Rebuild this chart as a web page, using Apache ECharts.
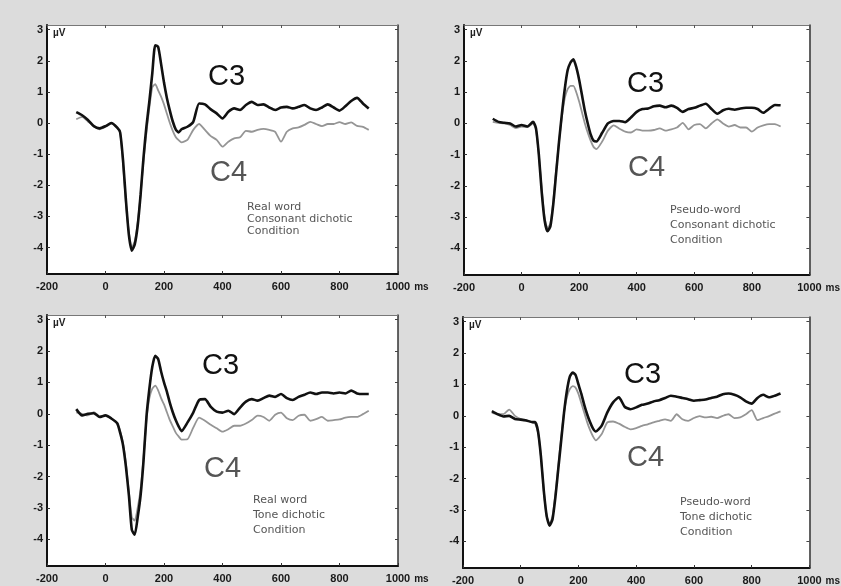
<!DOCTYPE html>
<html><head><meta charset="utf-8">
<script src="https://cdn.jsdelivr.net/npm/echarts@6/dist/echarts.min.js"></script>
<style>html,body{margin:0;padding:0;background:#dcdcdc}#c{width:841px;height:586px}</style>
</head><body><div id="c"></div><script>
// ---- data ----
const times = [-100,-80,-60,-40,-20,0,20,40,50,60,70,80,90,100,110,120,130,140,150,160,170,180,190,200,210,220,230,240,250,260,280,300,320,340,360,380,400,420,440,460,480,500,520,540,560,580,600,620,640,660,680,700,720,740,760,780,800,820,840,860,880,900];
const xTicks = [-200,0,200,400,600,800,1000];
const yTicks = [-4,-3,-2,-1,0,1,2,3];

const realConsC3 = [0.35,0.25,0.1,-0.1,-0.17,-0.1,0.0,-0.15,-0.3,-1.2,-2.5,-3.6,-4.1,-3.9,-3.3,-2.3,-1.1,-0.1,0.7,1.6,2.5,2.45,1.9,1.3,0.8,0.4,0.05,-0.2,-0.3,-0.2,
  -0.12,0.04,0.63,0.6,0.44,0.31,0.15,0.36,0.47,0.42,0.58,0.68,0.58,0.6,0.5,0.42,0.5,0.52,0.47,0.52,0.58,0.47,0.42,0.5,0.6,0.5,0.4,0.54,0.71,0.81,0.63,0.47];
const realConsC4 = [0.12,0.2,0.05,-0.1,-0.2,-0.12,-0.02,-0.15,-0.3,-1.3,-2.6,-3.5,-4.0,-3.8,-3.2,-2.3,-1.2,-0.3,0.5,1.15,1.25,1.05,0.85,0.6,0.3,0.0,-0.25,-0.45,-0.55,-0.62,
  -0.54,-0.22,-0.03,-0.22,-0.42,-0.54,-0.76,-0.6,-0.49,-0.46,-0.25,-0.28,-0.22,-0.19,-0.22,-0.28,-0.6,-0.28,-0.17,-0.14,-0.06,0.04,-0.03,-0.1,-0.03,-0.03,0.03,-0.03,0.02,-0.09,-0.12,-0.22];

const pseudoConsC3 = [0.15,0.05,0.02,0.0,-0.1,-0.05,-0.1,0.05,-0.15,-1.0,-2.2,-3.1,-3.45,-3.3,-2.6,-1.6,-0.6,0.3,1.1,1.7,1.95,2.05,1.8,1.4,0.9,0.4,0.0,-0.35,-0.55,-0.58,
  -0.3,0.0,0.08,0.08,0.04,0.19,0.37,0.46,0.48,0.55,0.57,0.52,0.57,0.5,0.37,0.46,0.5,0.57,0.63,0.46,0.31,0.42,0.47,0.44,0.48,0.5,0.5,0.46,0.34,0.47,0.59,0.58];
const pseudoConsC4 = [0.05,0.02,0.0,-0.05,-0.15,-0.1,-0.12,0.0,-0.2,-1.0,-2.1,-3.0,-3.35,-3.2,-2.5,-1.5,-0.6,0.2,0.8,1.1,1.2,1.2,1.0,0.7,0.35,0.0,-0.3,-0.55,-0.75,-0.82,
  -0.58,-0.23,-0.06,-0.17,-0.26,-0.29,-0.19,-0.23,-0.23,-0.21,-0.16,-0.23,-0.19,-0.13,0.02,-0.19,-0.05,-0.02,-0.16,0.0,0.13,0.0,-0.1,-0.05,-0.13,-0.13,-0.26,-0.13,-0.06,-0.02,-0.02,-0.1];

const realToneC3 = [0.15,-0.05,0.0,0.02,-0.1,-0.05,-0.15,-0.3,-0.6,-1.0,-1.7,-2.6,-3.7,-3.85,-3.3,-2.6,-1.5,-0.1,0.8,1.5,1.85,1.75,1.35,1.0,0.7,0.35,0.05,-0.2,-0.4,-0.55,
  -0.28,0.04,0.44,0.47,0.22,0.07,0.04,0.1,-0.01,0.2,0.39,0.47,0.42,0.5,0.58,0.54,0.63,0.5,0.44,0.54,0.61,0.68,0.63,0.68,0.68,0.65,0.68,0.65,0.74,0.65,0.63,0.63];
const realToneC4 = [0.05,0.0,-0.05,0.05,-0.08,-0.05,-0.15,-0.3,-0.55,-0.95,-1.6,-2.5,-3.3,-3.4,-3.0,-2.4,-1.4,-0.2,0.5,0.8,0.9,0.75,0.5,0.3,0.05,-0.2,-0.4,-0.6,-0.72,-0.82,
  -0.81,-0.44,-0.12,-0.22,-0.35,-0.46,-0.57,-0.49,-0.38,-0.38,-0.31,-0.2,-0.06,-0.1,-0.22,-0.03,0.04,-0.14,-0.2,-0.06,-0.03,-0.22,-0.17,-0.1,-0.22,-0.2,-0.18,-0.12,-0.1,-0.1,-0.01,0.1];

const pseudoToneC3 = [0.15,0.05,-0.02,0.0,-0.1,-0.12,-0.15,-0.2,-0.2,-0.5,-1.3,-2.4,-3.2,-3.5,-3.3,-2.6,-1.7,-0.8,0.1,0.8,1.25,1.38,1.3,1.0,0.7,0.35,0.05,-0.2,-0.4,-0.5,
  -0.32,0.11,0.43,0.59,0.29,0.21,0.27,0.35,0.39,0.46,0.5,0.57,0.64,0.61,0.57,0.53,0.48,0.5,0.52,0.57,0.61,0.69,0.71,0.67,0.59,0.46,0.39,0.57,0.67,0.59,0.64,0.71];
const pseudoToneC4 = [0.1,0.05,0.05,0.2,0.0,-0.1,-0.15,-0.2,-0.25,-0.55,-1.3,-2.4,-3.2,-3.45,-3.2,-2.5,-1.6,-0.7,0.1,0.6,0.85,0.95,0.9,0.7,0.4,0.1,-0.2,-0.45,-0.65,-0.78,
  -0.59,-0.21,-0.18,-0.25,-0.35,-0.43,-0.39,-0.32,-0.27,-0.21,-0.16,-0.11,-0.16,0.05,-0.11,-0.16,-0.07,-0.01,-0.05,-0.03,-0.07,0.0,0.05,-0.07,-0.05,0.05,0.18,-0.14,-0.07,-0.01,0.07,0.14];

const electrodeNames = ['C3','C4'];
const noteTexts = [
  ['Real word','Consonant dichotic','Condition'],
  ['Pseudo-word','Consonant dichotic','Condition'],
  ['Real word','Tone dichotic','Condition'],
  ['Pseudo-word','Tone dichotic','Condition']
];
const panelSeries = [[realConsC3,realConsC4],[pseudoConsC3,pseudoConsC4],[realToneC3,realToneC4],[pseudoToneC3,pseudoToneC4]];

// ---- layout (positions / styles) ----
const layouts = [
  {left:47, top:25, width:351, height:249, c3:[208,77], c4:[210,173], note:[247,207], lh:12},
  {left:464, top:25, width:349, height:250, c3:[627,84], c4:[628,168], note:[670,210], lh:15},
  {left:47, top:315, width:351, height:251, c3:[202,366], c4:[204,469], note:[253,500], lh:15},
  {left:463, top:317, width:351, height:251, c3:[624,375], c4:[627,458], note:[680,502], lh:15}
];
const Y_MIN = -4.85, Y_MAX = 3.15;
const labelFont = {color:'#1a1a1a', fontFamily:'Liberation Sans', fontWeight:'bold', fontSize:11};

const grid = [], xAxis = [], yAxis = [], series = [], graphic = [];
layouts.forEach((L, i) => {
  grid.push({left:L.left, top:L.top, width:L.width, height:L.height, show:true, backgroundColor:'#ffffff', borderWidth:0});
  xAxis.push({gridIndex:i, type:'value', min:xTicks[0], max:xTicks[xTicks.length-1], interval:200, position:'bottom',
    axisLine:{onZero:false, lineStyle:{color:'#111', width:2}},
    axisTick:{show:true, inside:true, length:3, lineStyle:{color:'#333'}},
    splitLine:{show:false},
    axisLabel:Object.assign({margin:7, formatter:(v)=>String(v)}, labelFont),
    name:'ms', nameLocation:'end', nameGap:12,
    nameTextStyle:{color:'#1a1a1a', fontFamily:'Liberation Sans', fontWeight:'bold', fontSize:10, verticalAlign:'top', padding:[8,0,0,0]}
  });
  yAxis.push({gridIndex:i, type:'value', min:Y_MIN, max:Y_MAX, position:'left',
    axisLine:{onZero:false, lineStyle:{color:'#111', width:2}},
    axisTick:{show:true, inside:true, length:3, customValues:yTicks, lineStyle:{color:'#333'}},
    splitLine:{show:false},
    axisLabel:Object.assign({margin:4, customValues:yTicks, formatter:(v)=>String(v)}, labelFont)
  });
});
layouts.forEach((L, i) => {
  xAxis.push({gridIndex:i, type:'value', min:xTicks[0], max:xTicks[xTicks.length-1], interval:200, position:'top',
    axisLine:{onZero:false, lineStyle:{color:'#777', width:1}},
    axisTick:{show:true, inside:true, length:3, lineStyle:{color:'#555'}},
    axisLabel:{show:false}, splitLine:{show:false}});
  yAxis.push({gridIndex:i, type:'value', min:Y_MIN, max:Y_MAX, position:'right',
    axisLine:{onZero:false, lineStyle:{color:'#333', width:1.5}},
    axisTick:{show:true, inside:true, length:3, customValues:yTicks, lineStyle:{color:'#444'}},
    axisLabel:{show:false}, splitLine:{show:false}});
});

panelSeries.forEach((pair, i) => {
  series.push({type:'line', name:electrodeNames[1], xAxisIndex:i, yAxisIndex:i, showSymbol:false, smooth:0.2,
    lineStyle:{color:'#959595', width:1.8}, data: times.map((t,k)=>[t, pair[1][k]]), z:2});
  series.push({type:'line', name:electrodeNames[0], xAxisIndex:i, yAxisIndex:i, showSymbol:false, smooth:0.2,
    lineStyle:{color:'#111111', width:2.6}, data: times.map((t,k)=>[t, pair[0][k]]), z:3});
});

layouts.forEach((L, i) => {
  graphic.push({type:'text', x:L.left+6, y:L.top+3, style:{text:'µV', fill:'#222', font:'bold 10px "Liberation Sans"', verticalAlign:'top'}});
  graphic.push({type:'text', x:L.c3[0], y:L.c3[1], style:{text:electrodeNames[0], fill:'#111', font:'29px "Liberation Sans"', verticalAlign:'middle'}});
  graphic.push({type:'text', x:L.c4[0], y:L.c4[1], style:{text:electrodeNames[1], fill:'#555', font:'29px "Liberation Sans"', verticalAlign:'middle'}});
  graphic.push({type:'text', x:L.note[0], y:L.note[1]-L.lh/2, style:{text:noteTexts[i].join('\n'), fill:'#555', font:'11px "DejaVu Sans"', lineHeight:L.lh, verticalAlign:'top'}});
});

const chart = echarts.init(document.getElementById('c'), null, {renderer:'canvas'});
chart.setOption({backgroundColor:'#dcdcdc', animation:false, grid, xAxis, yAxis, series, graphic});
</script></body></html>
